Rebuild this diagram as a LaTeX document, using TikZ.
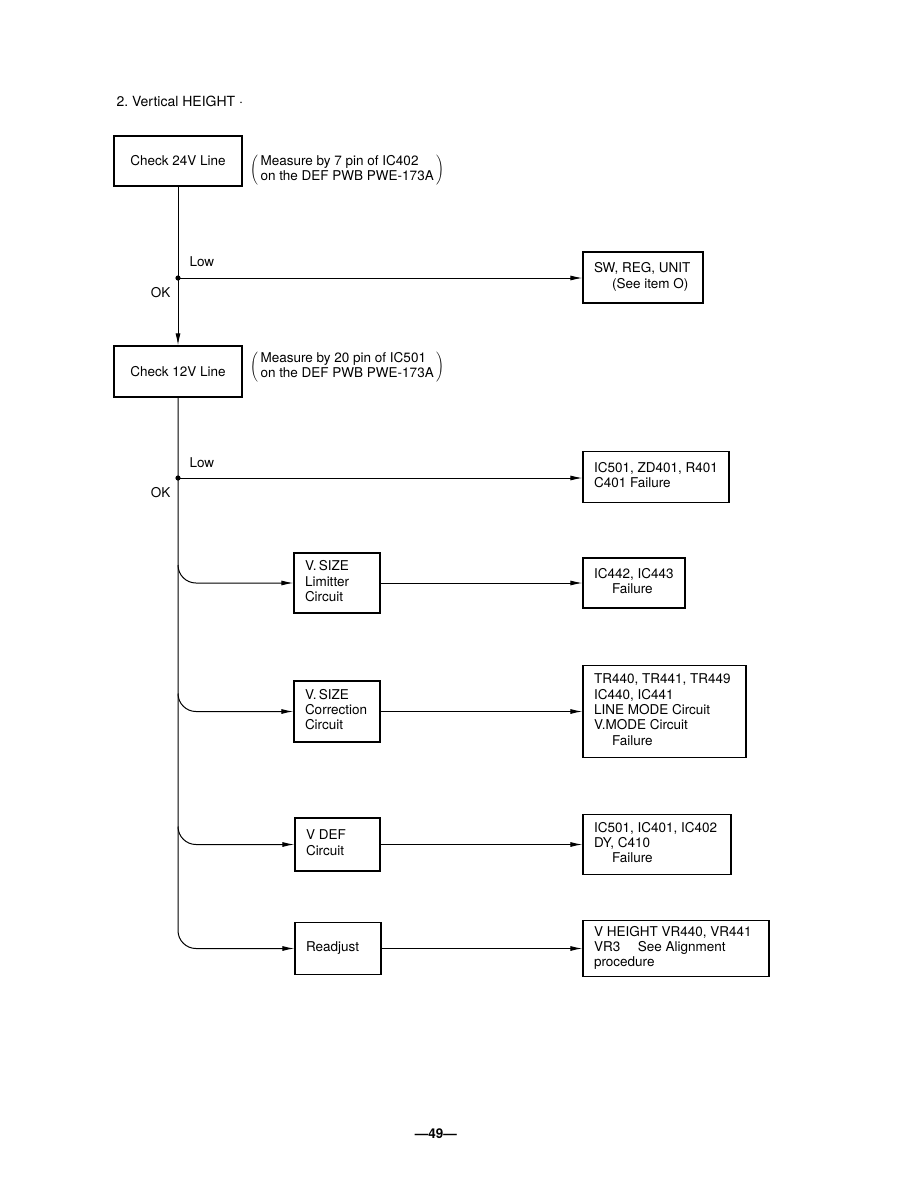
\documentclass[tikz,border=0pt]{standalone}
\usepackage{fontspec}
\setmainfont{TeX Gyre Heros}
\usetikzlibrary{arrows.meta,positioning,calc}
\newcommand{\boxtext}[2]{\makebox[#1][l]{\begin{tabular}{@{}l@{}}#2\end{tabular}}}

\begin{document}
\begin{tikzpicture}[x=1pt,y=-1pt,>={Latex[length=12pt,width=5pt]},
  font=\fontsize{13.5}{15.3}\selectfont,
  chkbox/.style={draw,line width=1.2pt,align=center,inner sep=0pt,minimum width=128pt},
  failbox/.style={draw,line width=1.2pt,inner xsep=11pt,inner ysep=0pt},
  flow/.style={line width=1pt}]
  \useasboundingbox (0,0) rectangle (918,1187);
  \node[anchor=west] (title) at (113,101) {\fontsize{14}{16}\selectfont 2.~Vertical HEIGHT $\cdot$};
  % checks of the supply lines
  \node[chkbox,minimum height=50pt] (chk24) at (178,161) {Check 24V Line};
  \node[anchor=west,inner sep=0pt] (note24) at (250,170)
    {$\left(\,\begin{tabular}{@{}l@{}}Measure by 7 pin of IC402\\on the DEF PWB PWE-173A\end{tabular}\,\right)$};
  \node[chkbox,minimum height=51pt] (chk12) at (178,371.5) {Check 12V Line};
  \node[anchor=west,inner sep=0pt] (note12) at (250,367)
    {$\left(\,\begin{tabular}{@{}l@{}}Measure by 20 pin of IC501\\on the DEF PWB PWE-173A\end{tabular}\,\right)$};
  % circuit blocks
  \node[failbox,minimum height=60pt] (lim) at (337,583) {\boxtext{64pt}{V.\,SIZE\\Limitter\\Circuit}};
  \node[failbox,minimum height=61pt] (corr) at (337,711.5) {\boxtext{64pt}{V.\,SIZE\\Correction\\Circuit}};
  \node[failbox,minimum height=53pt] (vdef) at (337.5,844.5) {\boxtext{63pt}{V DEF\\Circuit}};
  \node[failbox,minimum height=52pt] (readj) at (338,948.5) {\boxtext{64pt}{Readjust}};
  % failure boxes
  \node[failbox,minimum height=51pt] (swreg) at (643,277.5) {\boxtext{98pt}{SW, REG, UNIT\\\hspace*{18pt}(See item O)}};
  \node[failbox,minimum height=51pt] (zd401) at (656,477) {\boxtext{124pt}{IC501, ZD401, R401\\C401 Failure}};
  \node[failbox,minimum height=50pt] (ic442) at (634,583) {\boxtext{80pt}{IC442, IC443\\\hspace*{18pt}Failure}};
  \node[failbox,minimum height=92pt] (tr440) at (664.5,711.5) {\boxtext{141pt}{TR440, TR441, TR449\\IC440, IC441\\LINE MODE Circuit\\V.MODE Circuit\\\hspace*{18pt}Failure}};
  \node[failbox,minimum height=60pt] (ic402) at (657,844.5) {\boxtext{126pt}{IC501, IC401, IC402\\DY, C410\\\hspace*{18pt}Failure}};
  \node[failbox,minimum height=56pt] (vr440) at (676,948.5) {\boxtext{164pt}{V HEIGHT VR440, VR441\\VR3\hspace{1.3em}See Alignment\\procedure}};
  % spine and branches
  \coordinate (d1) at (178,278);
  \coordinate (d2) at (178,478);
  \coordinate (b1) at (178,565);
  \coordinate (b2) at (178,693.5);
  \coordinate (b3) at (178,826.5);
  \draw[flow,->] (chk24.south) -- (chk12.north);
  \draw[flow,->,rounded corners=18pt] (chk12.south) |- (readj.west);
  \fill (d1) circle (2.6pt);
  \fill (d2) circle (2.6pt);
  \node[anchor=west] (low1) at (186,262) {Low};
  \node[anchor=east] (ok1) at (174,293) {OK};
  \node[anchor=west] (low2) at (186,463) {Low};
  \node[anchor=east] (ok2) at (174,493) {OK};
  \draw[flow,->] (d1) -- (swreg.west |- d1);
  \draw[flow,->] (d2) -- (zd401.west |- d2);
  \draw[flow,->,rounded corners=18pt] (b1) |- (lim.west);
  \draw[flow,->,rounded corners=18pt] (b2) |- (corr.west);
  \draw[flow,->,rounded corners=18pt] (b3) |- (vdef.west);
  \draw[flow,->] (lim.east) -- (ic442.west);
  \draw[flow,->] (corr.east) -- (tr440.west);
  \draw[flow,->] (vdef.east) -- (ic402.west);
  \draw[flow,->] (readj.east) -- (vr440.west);
  \node (page) at (436,1134) {\textbf{—49—}};
\end{tikzpicture}
\end{document}
